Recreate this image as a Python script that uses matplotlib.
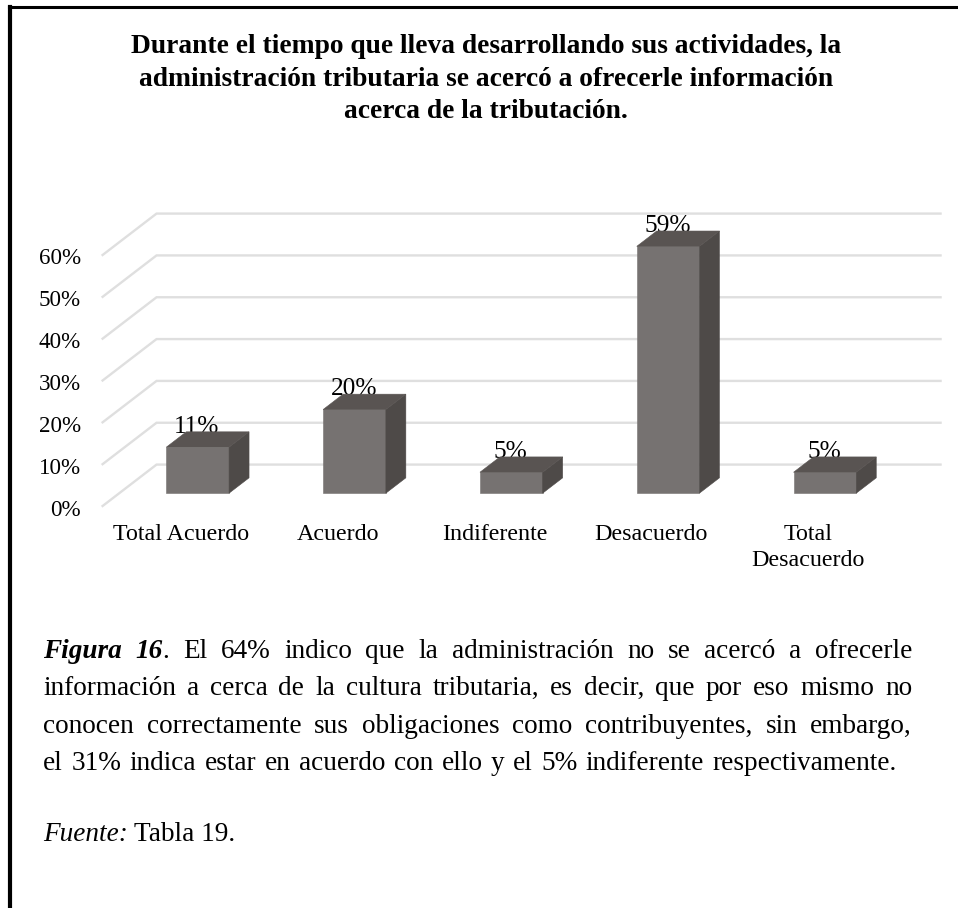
import matplotlib
matplotlib.use("Agg")
import matplotlib.pyplot as plt
from matplotlib.patches import Polygon
from matplotlib.transforms import ScaledTranslation

plt.rcParams["font.family"] = ["Liberation Serif", "DejaVu Serif"]

categorias = ["Total Acuerdo", "Acuerdo", "Indiferente", "Desacuerdo", "Total\nDesacuerdo"]
valores = [11, 20, 5, 59, 5]
etiquetas = ["11%", "20%", "5%", "59%", "5%"]
marcas_y = [0, 10, 20, 30, 40, 50, 60]

titulo = ("Durante el tiempo que lleva desarrollando sus actividades, la\n"
          "administración tributaria se acercó a ofrecerle información\n"
          "acerca de la tributación.")
parrafo = [
    [("Figura 16", "bold"), (". El 64% indico que la administración no se acercó a ofrecerle", "normal")],
    [("información a cerca de la cultura tributaria, es decir, que por eso mismo no", "normal")],
    [("conocen correctamente sus obligaciones como contribuyentes, sin embargo,", "normal")],
    [("el 31% indica estar en acuerdo con ello y el 5% indiferente respectivamente.", "normal")],
]

W, H = 958, 908
fig = plt.figure(figsize=(W / 100, H / 100), dpi=100)

# marco de la pagina
fig.add_artist(plt.Line2D([10 / W, 10 / W], [0, 1 - 7 / H], color="black", lw=3))
fig.add_artist(plt.Line2D([8.5 / W, 1], [1 - 7 / H, 1 - 7 / H], color="black", lw=2.2))

# ejes sobre la pared frontal del grafico 3D
ax = fig.add_axes([102.6 / W, 1 - 506 / H, 784 / W, 251 / H])
ax.set_xlim(-0.5, 4.5)
ax.set_ylim(0, 60)
for s in ax.spines.values():
    s.set_visible(False)
ax.patch.set_visible(False)

# proyeccion oblicua: fondo del piso en unidades de datos
fondo_x = 0.344
fondo_y = 9.9
p_frente = 0.31
p_atras = 0.68
ancho = 0.4


def proy(x, y, p):
    return x + p * fondo_x, y + p * fondo_y


for v in marcas_y:
    xs = [-0.5, -0.5 + fondo_x, 4.5 + fondo_x]
    ys = [v, v + fondo_y, v + fondo_y]
    ax.plot(xs, ys, color="#dfdfdf", lw=1.7, clip_on=False, zorder=1, solid_joinstyle="miter")

for i, v in enumerate(valores):
    xt = proy(i, v, p_frente)[0]
    yt = proy(i, v, p_atras)[1]
    # la etiqueta queda detras de la barra, como en el original
    ax.text(xt - 0.005, yt - 0.2, etiquetas[i], ha="center", va="baseline", fontsize=18.3,
            color="black", zorder=1.5, clip_on=False)
    izq, der = i - ancho / 2, i + ancho / 2
    esquinas = {
        "a": proy(izq, 0, p_frente), "b": proy(der, 0, p_frente),
        "c": proy(der, v, p_frente), "d": proy(izq, v, p_frente),
        "e": proy(der, 0, p_atras), "f": proy(der, v, p_atras), "g": proy(izq, v, p_atras),
    }
    caras = [("abcd", "#767271"), ("bcfe", "#4e4a48"), ("dcfg", "#595452")]
    for nombre, color in caras:
        ax.add_patch(Polygon([esquinas[k] for k in nombre], closed=True, facecolor=color,
                             edgecolor=color, lw=0.4, clip_on=False, zorder=2))

ax.set_yticks(marcas_y)
ax.set_yticklabels([f"{v}%" for v in marcas_y], fontsize=16.6)
ax.set_xticks(range(len(categorias)))
ax.set_xticklabels(categorias, fontsize=17.3, linespacing=1.3)
ax.tick_params(axis="y", length=0, pad=15.5)
ax.tick_params(axis="x", length=0, pad=13)
for lab in ax.get_yticklabels():
    lab.set_transform(lab.get_transform() + ScaledTranslation(0, -1.5 / 100, fig.dpi_scale_trans))

fig.text(486 / W, 1 - 79 / H, titulo, ha="center", va="center", fontsize=19.8,
         fontweight="bold", linespacing=1.4)

# parrafo justificado, palabra por palabra; la ultima linea no llega al margen
renderer = fig.canvas.get_renderer()
izq_txt = 43
der_lineas = [912, 912, 912, 897]
y_lineas = [658, 695, 733, 770]
for corridas, y, der_txt in zip(parrafo, y_lineas, der_lineas):
    piezas = []
    for texto, peso in corridas:
        estilo = "italic" if peso == "bold" else "normal"
        for n, palabra in enumerate(texto.split(" ")):
            if palabra == "":
                continue
            # el punto va pegado a "16"
            pegado = n == 0 and palabra.startswith(".")
            t = fig.text(0, 1 - y / H, palabra, fontsize=19.6, fontweight=peso, fontstyle=estilo,
                         ha="left", va="baseline")
            piezas.append((t, t.get_window_extent(renderer).width, pegado))
    total = sum(p[1] for p in piezas)
    huecos = sum(1 for p in piezas[1:] if not p[2])
    hueco = (der_txt - izq_txt - total) / huecos
    x = izq_txt
    for k, (t, ancho_t, pegado) in enumerate(piezas):
        if k > 0 and not pegado:
            x += hueco
        t.set_x(x / W)
        x += ancho_t

t1 = fig.text(izq_txt / W, 1 - 841 / H, "Fuente:", fontsize=19.6, fontstyle="italic", ha="left", va="baseline")
fig.text((izq_txt + t1.get_window_extent(renderer).width + 6) / W, 1 - 841 / H, "Tabla 19.", fontsize=19.6,
         ha="left", va="baseline")

fig.savefig("out.png", dpi=100)
